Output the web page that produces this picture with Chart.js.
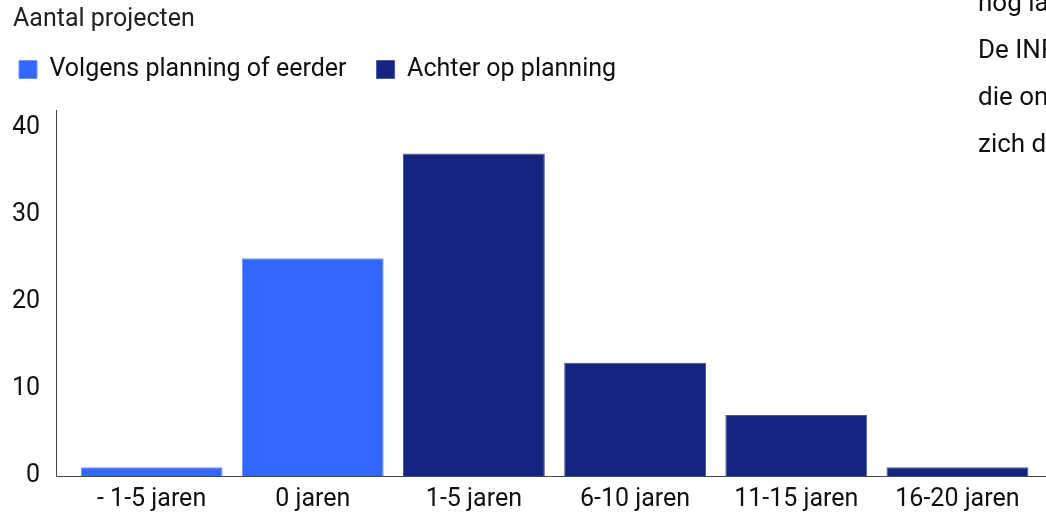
<!DOCTYPE html>
<html>
<head>
<meta charset="utf-8">
<script src="https://cdn.jsdelivr.net/npm/chart.js@4/dist/chart.umd.min.js"></script>
<style>
  html, body { margin: 0; padding: 0; background: #fff; overflow: hidden; }
  #wrap { position: relative; width: 1046px; height: 513px; }
  #side {
    position: absolute; left: 978px; top: -21px; width: 200px;
    font: 26px Roboto, sans-serif; line-height: 47px; color: #111; white-space: nowrap;
  }
</style>
</head>
<body>
<div id="wrap">
  <canvas id="myChart" width="1046" height="513"></canvas>
  <div id="side">nog lang<br>De INFRA<br>die onder<br>zich daar</div>
</div>
<script>
'use strict';

/* Data */
const categories = ['- 1-5 jaren', '0 jaren', '1-5 jaren', '6-10 jaren', '11-15 jaren', '16-20 jaren'];
const onSchedule = [1, 25, null, null, null, null];
const behindSchedule = [null, null, 37, 13, 7, 1];
const yTicks = [0, 10, 20, 30, 40];

/* Axis lines drawn a bit outside the plot, like the original.
   Also nudges the legend so its first box sits under the title. */
const axisLines = {
    id: 'axisLines',
    afterInit(chart) {
        const legend = chart.legend;
        const fit = legend.fit;
        legend.fit = function() {
            fit.call(this);
            this.height += 18;
        };
    },
    afterLayout(chart) {
        chart.legend.left -= 24;
    },
    afterDraw(chart) {
        const ctx = chart.ctx;
        const area = chart.chartArea;
        const x0 = area.left - 15;
        ctx.save();
        ctx.strokeStyle = '#444';
        ctx.lineWidth = 1;
        ctx.beginPath();
        ctx.moveTo(x0 + 0.5, area.top);
        ctx.lineTo(x0 + 0.5, area.bottom + 0.5);
        ctx.lineTo(chart.width, area.bottom + 0.5);
        ctx.stroke();
        ctx.restore();
    }
};

const config = {
    type: 'bar',
    data: {
        labels: categories,
        datasets: [{
            label: 'Volgens planning of eerder',
            data: onSchedule,
            backgroundColor: '#3467FF',
            borderColor: '#6f92ff',
            borderWidth: 1
        }, {
            label: 'Achter op planning',
            data: behindSchedule,
            backgroundColor: '#15257F',
            borderColor: '#4a58a0',
            borderWidth: 1
        }]
    },
    options: {
        responsive: false,
        animation: false,
        devicePixelRatio: 1,
        layout: {
            padding: { left: 13, right: 8, top: 0, bottom: 0 }
        },
        datasets: {
            bar: { barPercentage: 0.88, categoryPercentage: 1 }
        },
        scales: {
            x: {
                stacked: true,
                afterFit: scale => {
                    scale.height = 37;
                },
                grid: { display: false, drawTicks: false },
                border: { display: false },
                ticks: { color: '#111', font: { size: 25, family: 'Roboto' }, padding: 9, maxRotation: 0 }
            },
            y: {
                stacked: true,
                min: 0,
                max: 42,
                afterBuildTicks: scale => {
                    scale.ticks = yTicks.map(v => ({ value: v }));
                },
                afterFit: scale => {
                    scale.width = 58;
                    scale.paddingTop = 0;
                    scale.paddingBottom = 0;
                },
                grid: { display: false, drawTicks: false },
                border: { display: false },
                ticks: { color: '#111', font: { size: 25, family: 'Roboto' }, padding: 31 }
            }
        },
        plugins: {
            title: {
                display: true,
                text: 'Aantal projecten',
                align: 'start',
                color: '#222',
                font: { size: 25, family: 'Roboto', weight: 'normal' },
                padding: { top: 5, bottom: -8 }
            },
            legend: {
                align: 'start',
                labels: {
                    boxWidth: 18,
                    boxHeight: 18,
                    color: '#111',
                    font: { size: 25, family: 'Roboto' },
                    padding: 30
                }
            },
            tooltip: { enabled: false }
        }
    },
    plugins: [axisLines]
};

var myChart = new Chart(document.getElementById('myChart'), config);
</script>
</body>
</html>
